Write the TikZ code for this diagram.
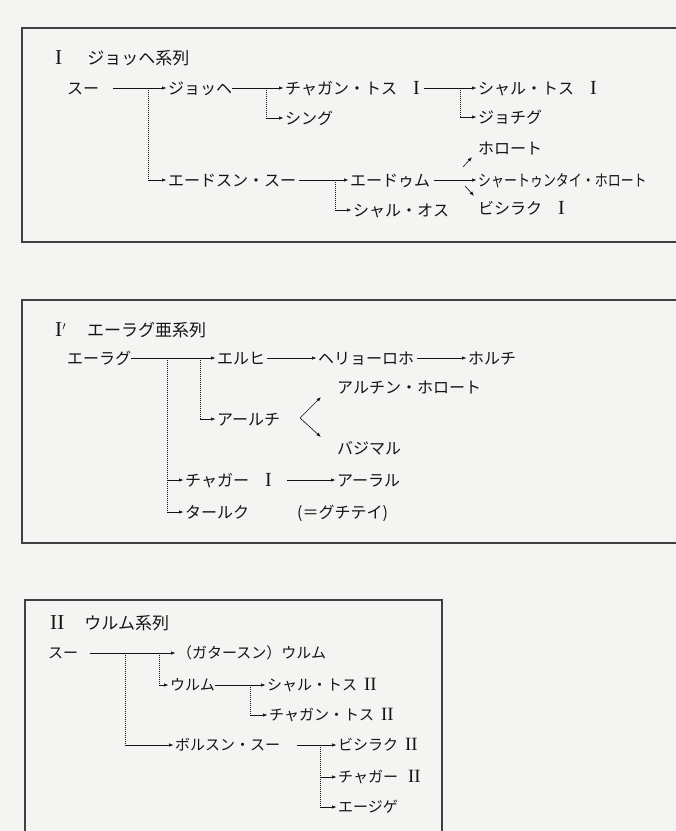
\documentclass[tikz,border=0pt]{standalone}
\usepackage{graphicx}
\usepackage{fontspec}
\setmainfont{Noto Sans CJK JP}
\newfontfamily\romanfont[Scale=1.25]{Liberation Serif}
\usetikzlibrary{arrows.meta}

\newcommand{\romnum}[1]{{\romanfont #1}}
\definecolor{paper}{RGB}{244,244,242}
\definecolor{ink}{RGB}{20,20,20}

\tikzset{
	lbl/.style={anchor=west, inner sep=0pt, text=ink, text height=13pt, text depth=1pt, font=\fontsize{16pt}{18pt}\selectfont},
	lblsm/.style={lbl, text height=12pt, font=\fontsize{15pt}{17pt}\selectfont},
	ttl/.style={lbl, text height=14pt, font=\fontsize{17pt}{19pt}\selectfont},
	arr/.style={draw=ink, line width=0.65pt, -{Latex[length=4.5pt,width=3.5pt]}, shorten >=1.5pt},
	dotline/.style={draw=ink, line width=0.65pt, dash pattern=on 0.9pt off 1.1pt},
	frame/.style={draw=black!75, line width=1.3pt},
}

\begin{document}
\begin{tikzpicture}[x=1pt, y=-1pt]
		\fill[paper] (0,0) rectangle (676,831);
		\useasboundingbox (0,0) rectangle (676,831);
		\clip (0,0) rectangle (676,831);
		
		\draw[frame] (22,28) rectangle (700,242);
		\draw[frame] (22,300) rectangle (700,543);
		\draw[frame] (25,600) rectangle (442,850);
		
		\node[ttl] (t1) at (55,58) {\romnum{I}\hspace{25pt}ジョッヘ系列};
		\node[lbl] (su1) at (67,88) {スー};
		\node[lbl] (jo) at (168,88) {ジョッヘ};
		\node[lbl] (cht1) at (285,88) {チャガン・トス　\romnum{I}};
		\node[lbl] (sht1) at (478,88) {シャル・トス　\romnum{I}};
		\node[lbl] (shing) at (285,118) {シング};
		\node[lbl] (jochig) at (478,117) {ジョチグ};
		\node[lbl] (horo) at (478,148) {ホロート};
		\node[lbl] (edsun) at (168,180) {エードスン・スー};
		\node[lbl] (edum) at (350,180) {エードゥム};
		\node[lbl] (shato) at (478,180) {\scalebox{0.81}[1]{シャートゥンタイ・ホロート}};
		\node[lbl] (shao) at (353,210) {シャル・オス};
		\node[lbl] (bish1) at (478,208) {ビシラク　\romnum{I}};
		
		\coordinate (b1) at (148,88);
		\coordinate (b2) at (266,88);
		\coordinate (b3) at (460,88);
		\coordinate (b4) at (335,180);
		\coordinate (up1) at (463,167);
		\coordinate (dn1) at (465,186);
		
		\draw[arr, shorten <=14pt] (su1.east) -- (jo.west);
		\draw[dotline] (b1) -- (b1 |- edsun.west);
		\draw[arr] (b1 |- edsun.west) -- (edsun.west);
		\draw[arr] (jo.east) -- (cht1.west);
		\draw[dotline] (b2) -- (b2 |- shing.west);
		\draw[arr] (b2 |- shing.west) -- (shing.west);
		\draw[arr, shorten <=4pt] (cht1.east) -- (sht1.west);
		\draw[dotline] (b3) -- (b3 |- jochig.west);
		\draw[arr] (b3 |- jochig.west) -- (jochig.west);
		\draw[arr, shorten <=3pt] (edsun.east) -- (edum.west);
		\draw[dotline] (b4) -- (b4 |- shao.west);
		\draw[arr] (b4 |- shao.west) -- (shao.west);
		\draw[arr, shorten <=4pt] (edum.east) -- (shato.west);
		\draw[arr] (up1) -- ++(10,-11);
		\draw[arr] (dn1) -- ++(10,11);
		
		\node[ttl] (t2) at (55,330) {\romnum{I}$'$\hspace{21pt}エーラグ亜系列};
		\node[lbl] (erag) at (67,358) {エーラグ};
		\node[lbl] (elhi) at (217,358) {エルヒ};
		\node[lbl] (heli) at (318,358) {ヘリョーロホ};
		\node[lbl] (holchi) at (468,358) {ホルチ};
		\node[lbl] (altin) at (337,387) {アルチン・ホロート};
		\node[lbl] (arch) at (217,419) {アールチ};
		\node[lbl] (bajim) at (337,448) {バジマル};
		\node[lbl] (chag1) at (185,480) {チャガー　\romnum{I}};
		\node[lbl] (aral) at (337,480) {アーラル};
		\node[lbl] (tarku) at (185,512) {タールク};
		\node[lbl] (guch) at (297,512) {(＝グチテイ)};
		
		\coordinate (b5) at (167,358);
		\coordinate (b6) at (200,358);
		\coordinate (chev) at (300,418);
		\coordinate (chevup) at (322,396);
		\coordinate (chevdn) at (322,438);
		
		\draw[arr] (erag.east) -- (elhi.west);
		\draw[dotline] (b5) -- (b5 |- tarku.west);
		\draw[arr] (b5 |- chag1.west) -- (chag1.west);
		\draw[arr] (b5 |- tarku.west) -- (tarku.west);
		\draw[dotline] (b6) -- (b6 |- arch.west);
		\draw[arr] (b6 |- arch.west) -- (arch.west);
		\draw[arr, shorten <=2pt] (elhi.east) -- (heli.west);
		\draw[arr, shorten <=3pt] (heli.east) -- (holchi.west);
		\draw[arr] (chev) -- (chevup);
		\draw[arr] (chev) -- (chevdn);
		\draw[arr, shorten <=15pt] (chag1.east) -- (aral.west);
		
		\node[ttl] (t3) at (50,623) {\romnum{II}\hspace{20pt}ウルム系列};
		\node[lblsm] (su3) at (48,653) {スー};
		\node[lblsm] (gat) at (177,653) {（ガタースン）ウルム};
		\node[lblsm] (urum) at (170,685) {ウルム};
		\node[lblsm] (sht2) at (267,685) {シャル・トス\hspace{7pt}\romnum{II}};
		\node[lblsm] (cht2) at (269,715) {チャガン・トス\hspace{7pt}\romnum{II}};
		\node[lblsm] (bols) at (175,745) {ボルスン・スー};
		\node[lblsm] (bish2) at (338,745) {ビシラク\hspace{7pt}\romnum{II}};
		\node[lblsm] (chag2) at (338,777) {チャガー\hspace{10pt}\romnum{II}};
		\node[lblsm] (eji) at (338,807) {エージゲ};
		
		\coordinate (b7) at (125,653);
		\coordinate (b8) at (159,653);
		\coordinate (b9) at (250,685);
		\coordinate (b10) at (320,745);
		
		\draw[arr, shorten <=12pt] (su3.east) -- (gat.west);
		\draw[dotline] (b7) -- (b7 |- bols.west);
		\draw[arr] (b7 |- bols.west) -- (bols.west);
		\draw[dotline] (b8) -- (b8 |- urum.west);
		\draw[arr] (b8 |- urum.west) -- (urum.west);
		\draw[arr] (urum.east) -- (sht2.west);
		\draw[dotline] (b9) -- (b9 |- cht2.west);
		\draw[arr] (b9 |- cht2.west) -- (cht2.west);
		\draw[arr, shorten <=17pt] (bols.east) -- (bish2.west);
		\draw[dotline] (b10) -- (b10 |- eji.west);
		\draw[arr] (b10 |- chag2.west) -- (chag2.west);
		\draw[arr] (b10 |- eji.west) -- (eji.west);
	\end{tikzpicture}
\end{document}
